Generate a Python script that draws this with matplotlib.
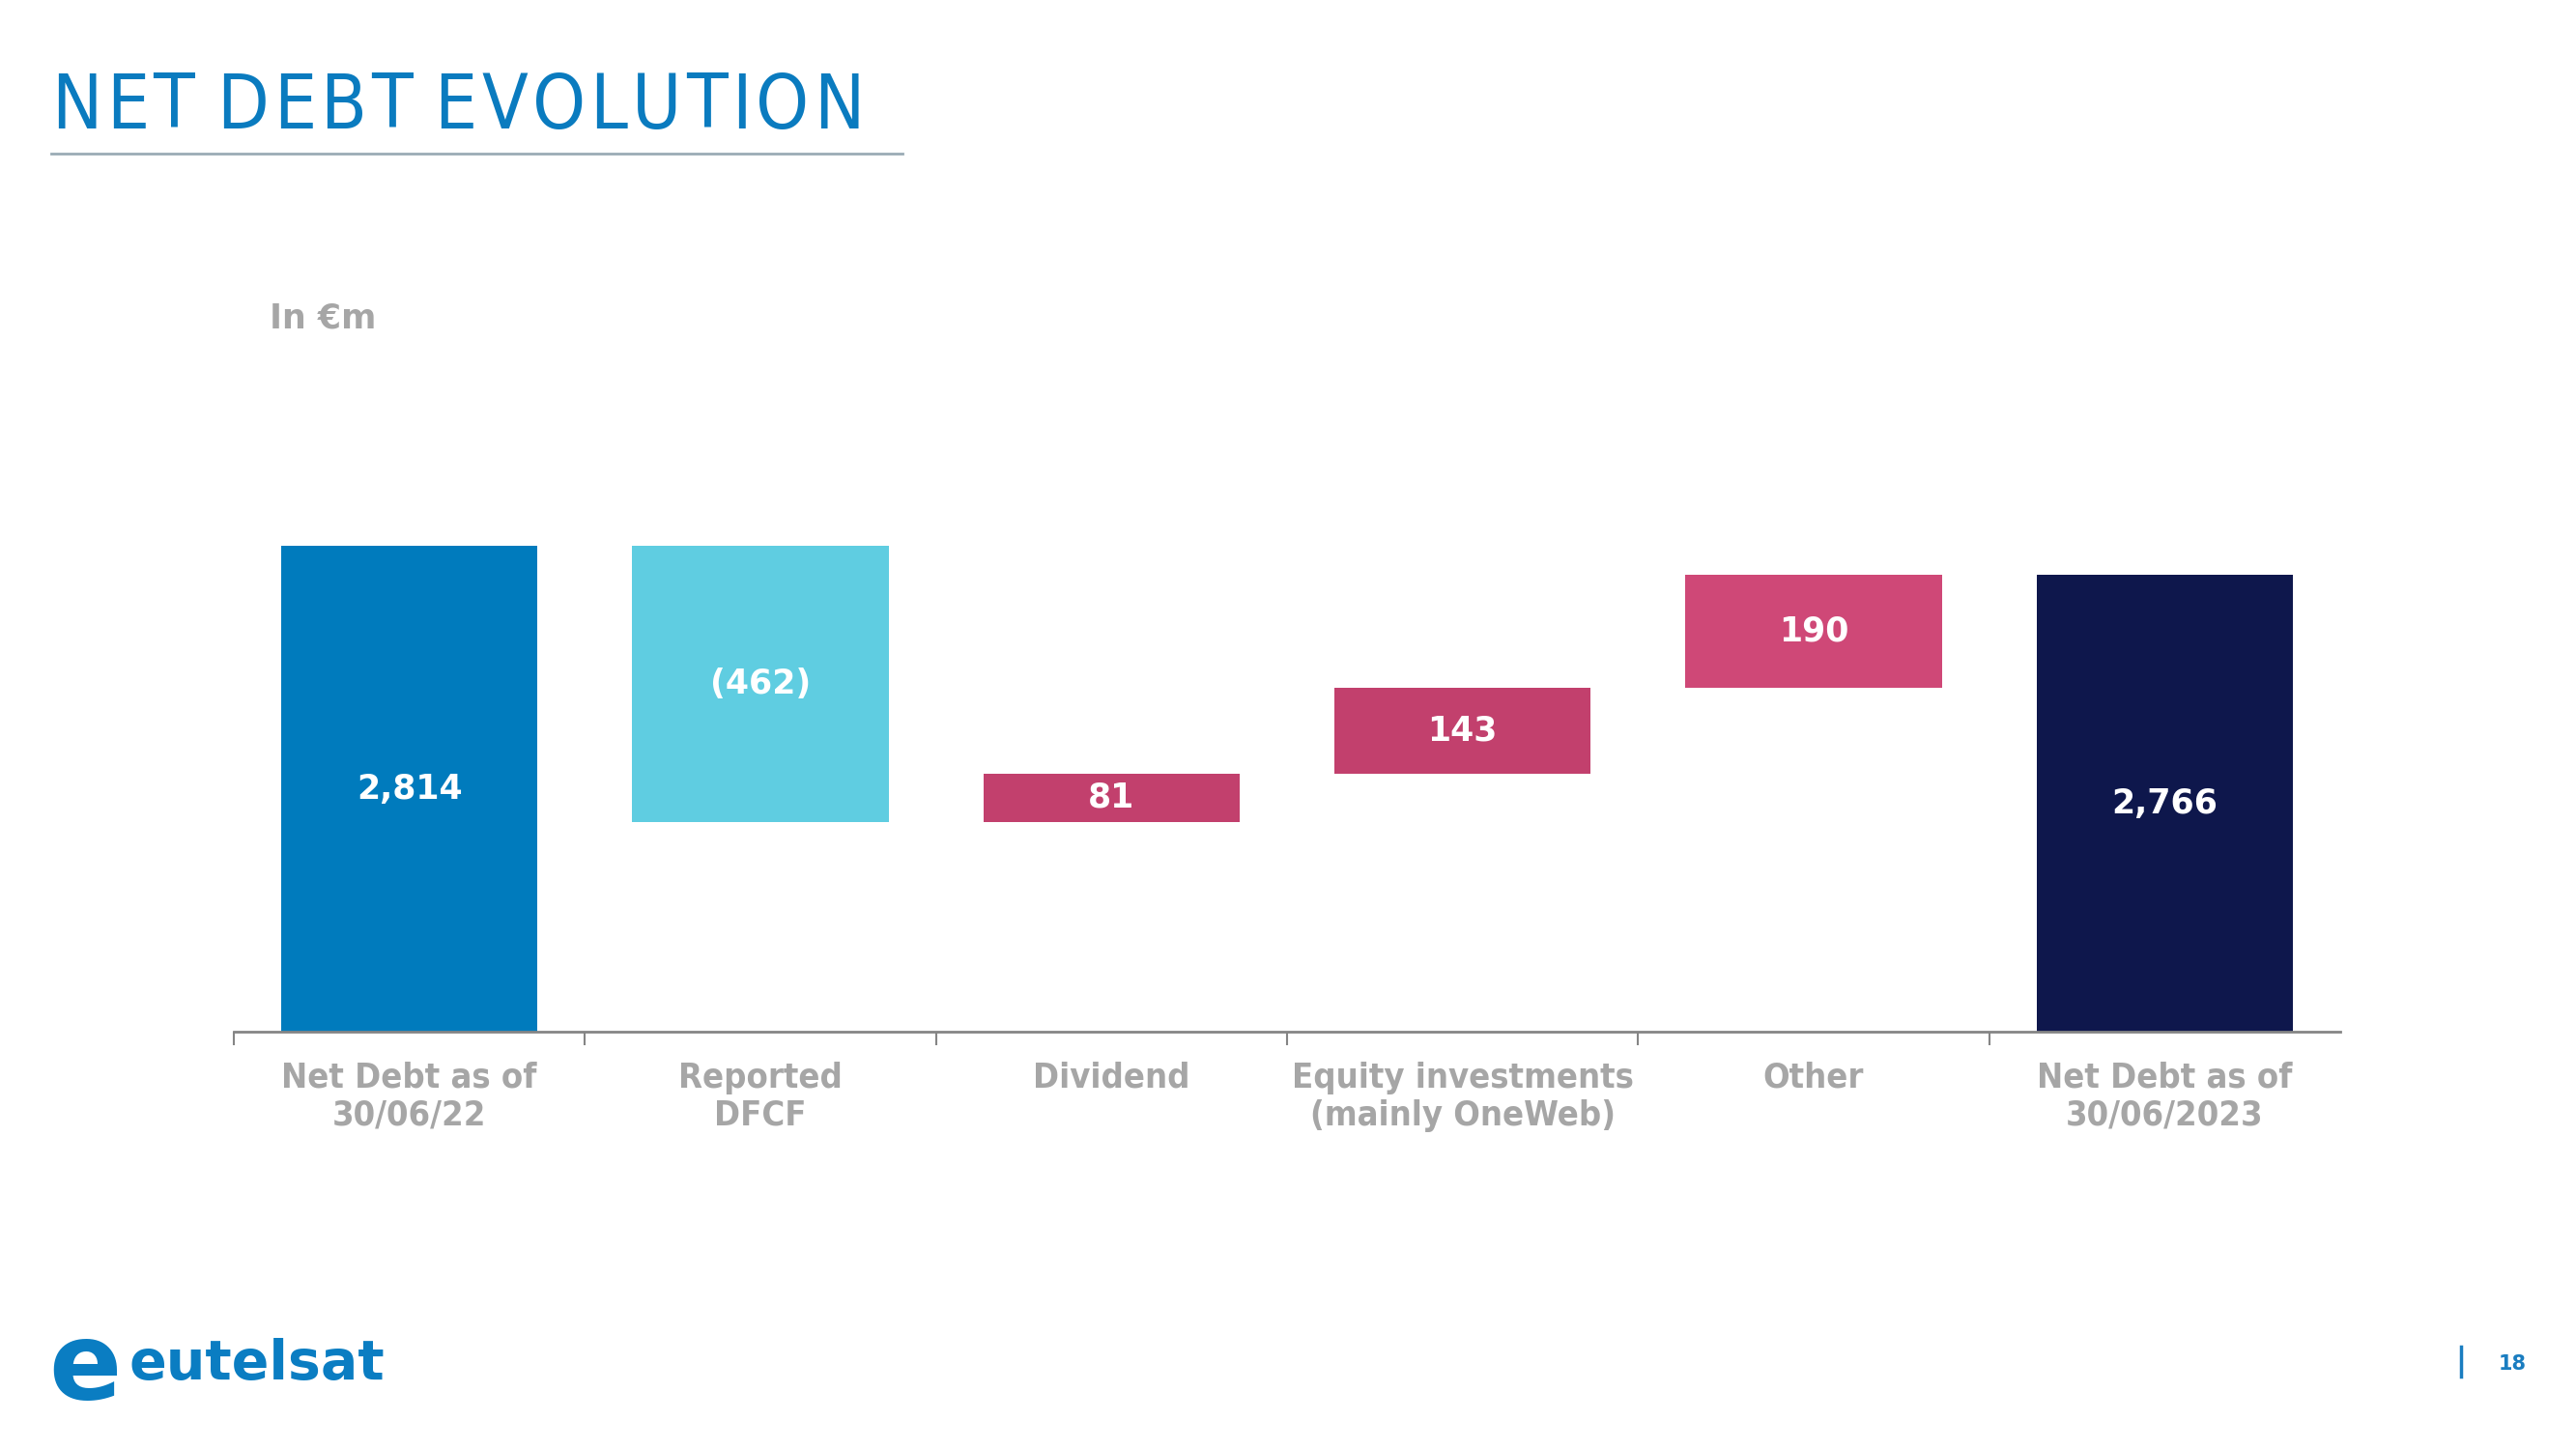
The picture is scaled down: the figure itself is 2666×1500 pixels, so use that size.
import numpy as np
import matplotlib
matplotlib.use("Agg")
import matplotlib.pyplot as plt

# chart data
categories = ["Net Debt as of\n30/06/22", "Reported\nDFCF", "Dividend",
              "Equity investments\n(mainly OneWeb)", "Other", "Net Debt as of\n30/06/2023"]
values = [2814, -462, 81, 143, 190, 2766]
value_labels = ["2,814", "(462)", "81", "143", "190", "2,766"]
is_total = [True, False, False, False, False, True]
bar_colors = ["#007BBD", "#5FCDE1", "#C2406D", "#C2406D", "#CF4877", "#0E174C"]

y_floor = 2000
y_top = 3008

fig = plt.figure(figsize=(26.66, 15), dpi=100)
fig.patch.set_facecolor("white")

ax = fig.add_axes([242 / 2666, 1 - 1068 / 1500, 2180 / 2666, 622.3 / 1500])

# waterfall geometry
bottoms = []
heights = []
running = 0
for v, tot in zip(values, is_total):
    if tot:
        bottoms.append(0)
        heights.append(v)
        running = v
    else:
        if v < 0:
            bottoms.append(running + v)
            heights.append(-v)
        else:
            bottoms.append(running)
            heights.append(v)
        running += v

x = np.arange(len(categories))
ax.bar(x, heights, bottom=bottoms, width=0.73, color=bar_colors, zorder=2)

for xi, b, h, lab in zip(x, bottoms, heights, value_labels):
    lo = max(b, y_floor)
    ax.text(xi, (lo + b + h) / 2, lab, ha="center", va="center", color="white",
            fontsize=25, fontweight="bold", family="DejaVu Sans", zorder=3)

ax.set_xlim(-0.5, len(categories) - 0.5)
ax.set_ylim(y_floor, y_top)
for s in ["top", "right", "left"]:
    ax.spines[s].set_visible(False)
ax.spines["bottom"].set_color("#858585")
ax.spines["bottom"].set_linewidth(2)
ax.set_yticks([])

ax.set_xticks(np.arange(-0.5, len(categories) - 1, 1.0))
ax.set_xticklabels([])
ax.tick_params(axis="x", which="major", length=10, width=1.5, color="#858585")
ax.set_xticks(x, minor=True)
ax.set_xticklabels(categories, minor=True, fontsize=26, fontweight="bold",
                   color="#A6A6A6", fontstretch="condensed", linespacing=1.2)
ax.tick_params(axis="x", which="minor", length=0, pad=22)

# title with letter spacing
renderer = fig.canvas.get_renderer()
title = "NET DEBT EVOLUTION"
tx = 53 / 2666
for ch in title:
    t = fig.text(tx, 1 - 133 / 1500, ch, fontsize=56, color="#0A7BBF",
                 family="DejaVu Sans", fontstretch="condensed", va="baseline")
    w = t.get_window_extent(renderer).width if ch != " " else 14
    tx += (w + 4.5) / 2666
fig.add_artist(plt.Line2D([53 / 2666, 934 / 2666], [1 - 159 / 1500, 1 - 159 / 1500],
                          color="#9AABB5", linewidth=2))

fig.text(279 / 2666, 1 - 340 / 1500, "In €m", fontsize=25, fontweight="bold",
         color="#A6A6A6", va="baseline")

# footer logo and page number
fig.text(50 / 2666, 1 - 1448 / 1500, "e", fontsize=80, fontweight="bold",
         color="#0A7DC2", va="baseline")
fig.text(133 / 2666, 1 - 1428 / 1500, "eutelsat", fontsize=41, fontweight="bold",
         color="#0A7DC2", va="baseline")
fig.add_artist(plt.Line2D([2547 / 2666, 2547 / 2666], [1 - 1394 / 1500, 1 - 1425 / 1500],
                          color="#1A7DC0", linewidth=2.5))
fig.text(2600 / 2666, 1 - 1418 / 1500, "18", fontsize=15, fontweight="bold",
         color="#1A7DC0", va="baseline", ha="center")

fig.savefig("out.png", dpi=100, facecolor="white")
